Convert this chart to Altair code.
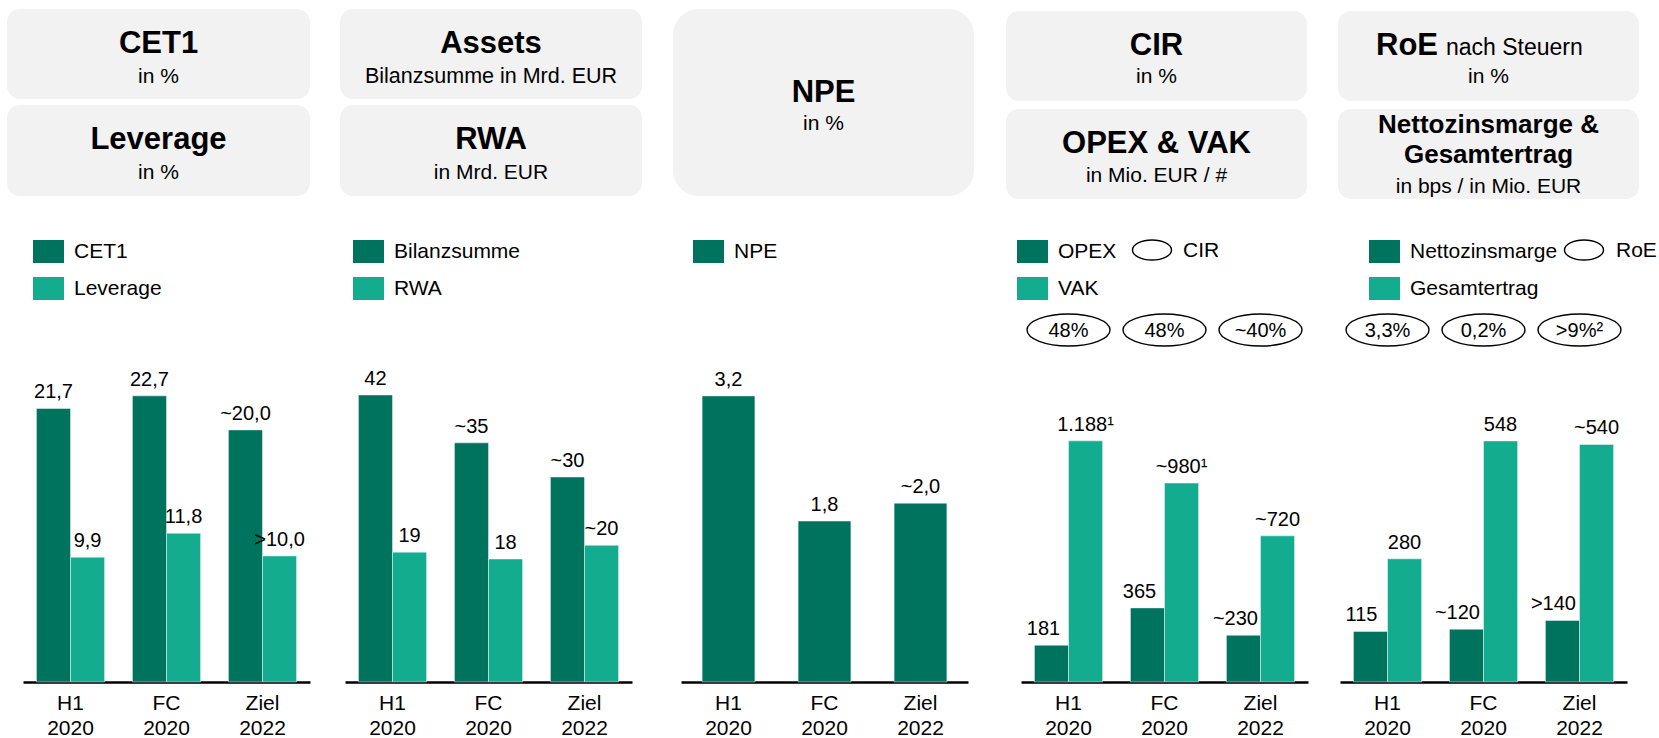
import altair as alt
import pandas as pd

FONT = "Liberation Sans, Arial, Helvetica, sans-serif"
DARK = "#00735F"
LIGHT = "#14AC8E"
BOX = "#F2F2F2"

# ---------------- data ----------------
categories = ["H1 2020", "FC 2020", "Ziel 2022"]

cet1 = [21.7, 22.7, 20.0]
cet1_labels = ["21,7", "22,7", "~20,0"]
leverage = [9.9, 11.8, 10.0]
leverage_labels = ["9,9", "11,8", ">10,0"]

assets = [42, 35, 30]
assets_labels = ["42", "~35", "~30"]
rwa = [19, 18, 20]
rwa_labels = ["19", "18", "~20"]

npe = [3.2, 1.8, 2.0]
npe_labels = ["3,2", "1,8", "~2,0"]

opex = [181, 365, 230]
opex_labels = ["181", "365", "~230"]
vak = [1188, 980, 720]
vak_labels = ["1.188¹", "~980¹", "~720"]
cir_labels = ["48%", "48%", "~40%"]

nim = [115, 120, 140]
nim_labels = ["115", "~120", ">140"]
gesamt = [280, 548, 540]
gesamt_labels = ["280", "548", "~540"]
roe_labels = ["3,3%", "0,2%", ">9%²"]

# ---------------- layout helpers ----------------
AXIS_Y = 682
PLOT_H = 300
RECT = "M-1,-0.742H1V0.742H-1Z"
ELLIPSE = "M-1,0A1,0.386,0,1,1,1,0A1,0.386,0,1,1,-1,0Z"
ELLIPSE_SMALL = "M-1,0A1,0.51,0,1,1,1,0A1,0.51,0,1,1,-1,0Z"


def one():
    return alt.Data(values=[{}])


def box(x0, x1, y0, y1, r=13):
    return alt.Chart(one()).mark_rect(color=BOX, cornerRadius=r).encode(
        x=alt.value(x0), x2=alt.value(x1), y=alt.value(y0), y2=alt.value(y1)
    )


def txt(s, x, y, size, bold=False, align="center"):
    return alt.Chart(one()).mark_text(
        text=s, font=FONT, fontSize=size, fontWeight="bold" if bold else "normal",
        color="black", align=align, baseline="alphabetic"
    ).encode(x=alt.value(x), y=alt.value(y))


def legend(lx):
    return alt.Legend(
        orient="none", legendX=lx, legendY=236, title=None, direction="vertical",
        symbolType=RECT, symbolSize=961, symbolStrokeWidth=0, symbolOpacity=1,
        labelFont=FONT, labelFontSize=21, labelColor="black", labelOffset=10,
        rowPadding=9, padding=0, labelLimit=300,
    )


def xaxis():
    return alt.Axis(
        orient="bottom", title=None, ticks=False, tickSize=0, grid=False,
        domainColor="black", domainWidth=2.5, labelAngle=0,
        labelFont=FONT, labelFontSize=21, labelColor="black", labelPadding=10,
        labelLineHeight=25, labelExpr="split(datum.label, ' ')",
    )


def panel(series, x0, x1, ymax, lx, ovals=None, dark_dx=0):
    rows = []
    for name, vals, labs, col in series:
        for c, v, l in zip(categories, vals, labs):
            rows.append({"cat": c, "series": name, "value": v, "label": l})
    df = pd.DataFrame(rows)
    names = [s[0] for s in series]
    colors = [s[3] for s in series]
    single = len(series) == 1
    pin, pout = (0.45, 0.22) if single else (0.29, 0.14)
    x = alt.X("cat:N", scale=alt.Scale(domain=categories, range=[x0, x1],
                                       paddingInner=pin, paddingOuter=pout),
              axis=xaxis())
    y = alt.Y("value:Q", scale=alt.Scale(domain=[0, ymax], range=[AXIS_Y, AXIS_Y - PLOT_H]),
              axis=None)
    color = alt.Color("series:N", scale=alt.Scale(domain=names, range=colors),
                      legend=legend(lx))
    enc = dict(x=x, y=y)
    if not single:
        enc["xOffset"] = alt.XOffset("series:N", scale=alt.Scale(domain=names))
    base = alt.Chart(df)
    bars = base.mark_bar(stroke="white", strokeWidth=1, strokeOpacity=0.45).encode(
        color=color, **enc)
    layers = [bars]
    for i, name in enumerate(names):
        layers.append(
            base.transform_filter(alt.datum.series == name).mark_text(
                font=FONT, fontSize=20, color="black", baseline="alphabetic",
                dy=-10, dx=(dark_dx if i == 0 else 0)
            ).encode(text="label:N", **enc)
        )
    if ovals is not None:
        odf = pd.DataFrame({"cat": categories, "label": ovals})
        ob = alt.Chart(odf)
        layers.append(ob.mark_point(shape=ELLIPSE, size=6889, filled=False,
                                    stroke="black", strokeWidth=1.4, opacity=1)
                      .encode(x=x, y=alt.value(330)))
        layers.append(ob.mark_text(font=FONT, fontSize=20, color="black",
                                   baseline="middle")
                      .encode(x=x, y=alt.value(331), text="label:N"))
    return alt.layer(*layers)


# ---------------- header boxes ----------------
C1, C2, C3, C4, C5 = 158.5, 491, 823.5, 1156.5, 1488.5
deco = [
    box(7, 310, 9, 99), box(7, 310, 105, 196),
    box(340, 642, 9, 99), box(340, 642, 105, 196),
    box(673, 974, 9, 196, r=26),
    box(1006, 1307, 11, 101), box(1006, 1307, 109, 199),
    box(1338, 1639, 11, 101), box(1338, 1639, 109, 199),
    txt("CET1", C1, 53, 31, True), txt("in %", C1, 83, 21),
    txt("Leverage", C1, 149, 31, True), txt("in %", C1, 179, 21),
    txt("Assets", C2, 53, 31, True), txt("Bilanzsumme in Mrd. EUR", C2, 83, 21.5),
    txt("RWA", C2, 149, 31, True), txt("in Mrd. EUR", C2, 179, 21),
    txt("NPE", C3, 102, 31, True), txt("in %", C3, 130, 21),
    txt("CIR", C4, 55, 31, True), txt("in %", C4, 83, 21),
    txt("OPEX & VAK", C4, 153, 31, True), txt("in Mio. EUR / #", C4, 182, 21),
    txt("RoE", 1438, 55, 31, True, align="right"),
    txt("nach Steuern", 1446, 55, 23, align="left"), txt("in %", C5, 83, 21),
    txt("Nettozinsmarge &", C5, 133, 26, True), txt("Gesamtertrag", C5, 163, 26, True),
    txt("in bps / in Mio. EUR", C5, 193, 21),
    # extra legend items (oval = CIR / RoE)
    alt.Chart(one()).mark_point(shape=ELLIPSE_SMALL, size=1521, filled=False,
                                stroke="black", strokeWidth=1.4, opacity=1)
    .encode(x=alt.value(1152), y=alt.value(250)),
    txt("CIR", 1183, 257, 21, align="left"),
    alt.Chart(one()).mark_point(shape=ELLIPSE_SMALL, size=1521, filled=False,
                                stroke="black", strokeWidth=1.4, opacity=1)
    .encode(x=alt.value(1584), y=alt.value(250)),
    txt("RoE", 1616, 257, 21, align="left"),
]

# ---------------- panels ----------------
p1 = panel([("CET1", cet1, cet1_labels, DARK), ("Leverage", leverage, leverage_labels, LIGHT)],
           23, 310, 23.8, 33)
p2 = panel([("Bilanzsumme", assets, assets_labels, DARK), ("RWA", rwa, rwa_labels, LIGHT)],
           345, 632, 43.9, 353)
p3 = panel([("NPE", npe, npe_labels, DARK)], 681, 968, 3.356, 693)
p4 = panel([("OPEX", opex, opex_labels, DARK), ("VAK", vak, vak_labels, LIGHT)],
           1021, 1308, 1478, 1017, ovals=cir_labels, dark_dx=-8)
p5 = panel([("Nettozinsmarge", nim, nim_labels, DARK), ("Gesamtertrag", gesamt, gesamt_labels, LIGHT)],
           1340, 1627, 682, 1369, ovals=roe_labels, dark_dx=-9)

chart = alt.layer(*deco, p1, p2, p3, p4, p5).resolve_scale(
    x="independent", y="independent", color="independent", xOffset="independent"
).properties(
    width=1659, height=AXIS_Y,
    padding={"left": 0, "right": 0, "top": 0, "bottom": 56},
    autosize=alt.AutoSizeParams(type="none"),
    background="white",
).configure_view(stroke=None)

chart.save("out.html", embed_options={"renderer": "svg", "actions": False})
